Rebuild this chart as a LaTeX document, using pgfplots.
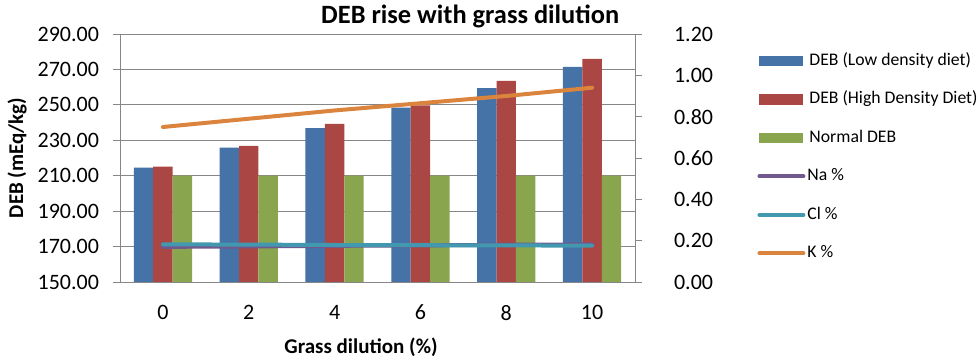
\documentclass[border=0pt]{standalone}
\usepackage{fontspec}
\setmainfont{Carlito}
\usepackage{pgfplots}
\pgfplotsset{compat=1.18}
\definecolor{cBlue}{HTML}{4572A7}
\definecolor{cRed}{HTML}{AA4643}
\definecolor{cGreen}{HTML}{89A54E}
\definecolor{cNa}{HTML}{71588F}
\definecolor{cCl}{HTML}{4198AF}
\definecolor{cK}{HTML}{DB843D}
\definecolor{cAxis}{HTML}{868686}
\begin{document}
\begin{tikzpicture}
\useasboundingbox (-60pt,-40.5pt) rectangle (429.5pt,141pt);
\begin{axis}[
  scale only axis, width=257.5pt, height=124pt,
  at={(0,0)}, anchor=south west,
  xmin=-0.5, xmax=5.5, ymin=150, ymax=290,
  ytick={150,170,...,290},
  xtick={0,...,5}, xticklabels={0,2,4,6,8,10},
  ytick pos=left,
  major x tick style={draw=none},
  tick align=outside, major tick length=3.5pt,
  tick style={cAxis, thin},
  axis line style={cAxis, thin},
  ymajorgrids, grid style={cAxis, thin},
  ybar=0pt, bar width=9.7pt,
  tick label style={font=\fontsize{11}{13}\selectfont},
  yticklabel style={xshift=-3.5pt, /pgf/number format/.cd, fixed, zerofill, precision=2, assume math mode=true},
  xticklabel style={yshift=-4.5pt, /pgf/number format/assume math mode=true},
  title={\bfseries DEB rise with grass dilution},
  every axis title/.style={at={(rel axis cs:0.68,1)}, yshift=9pt, anchor=center, font=\fontsize{13.2}{15}\selectfont},
  xlabel={\bfseries Grass dilution (\%)},
  ylabel={\bfseries DEB (mEq/kg)},
  every axis x label/.style={at={(rel axis cs:0.468,0)}, yshift=-32.5pt, anchor=center, font=\fontsize{10.5}{12}\selectfont},
  every axis y label/.style={at={(rel axis cs:0,0.5)}, xshift=-51.5pt, anchor=center, rotate=90, font=\fontsize{10.5}{12}\selectfont},
]
\addplot[fill=cBlue, draw=none] coordinates {(0,214.5) (1,225.8) (2,236.9) (3,248.4) (4,259.5) (5,271.4)};
\addplot[fill=cRed, draw=none] coordinates {(0,215.1) (1,226.9) (2,239.2) (3,249.7) (4,263.5) (5,275.9)};
\addplot[fill=cGreen, draw=none] coordinates {(0,210) (1,210) (2,210) (3,210) (4,210) (5,210)};
\end{axis}
\begin{axis}[
  scale only axis, width=257.5pt, height=124pt,
  at={(0,0)}, anchor=south west,
  xmin=-0.5, xmax=5.5, ymin=0, ymax=1.2,
  ytick={0,0.2,...,1.2},
  axis x line=none,
  axis y line*=right,
  tick align=outside, major tick length=3.5pt,
  tick style={cAxis, thin},
  axis line style={cAxis, thin, -},
  tick label style={font=\fontsize{11}{13}\selectfont},
  yticklabel style={xshift=12.5pt, /pgf/number format/.cd, fixed, zerofill, precision=2, assume math mode=true},
  legend style={at={(rel axis cs:1.237,1)}, anchor=north west, yshift=-8.5pt,
    draw=none, fill=none, inner sep=0pt,
    font=\fontsize{8.85}{10}\selectfont, row sep=9.75pt,
    nodes={inner sep=0pt, text height=7pt, text depth=2.5pt}},
  legend cell align=left,
]
\addlegendimage{legend image code/.code={\fill[cBlue] (0pt,-2.3pt) rectangle (21.5pt,2.3pt);}}
\addlegendentry{\hspace{2pt}DEB (Low density diet)}
\addlegendimage{legend image code/.code={\fill[cRed] (0pt,-2.3pt) rectangle (21.5pt,2.3pt);}}
\addlegendentry{\hspace{2pt}DEB (High Density Diet)}
\addlegendimage{legend image code/.code={\fill[cGreen] (0pt,-2.3pt) rectangle (21.5pt,2.3pt);}}
\addlegendentry{\hspace{2pt}Normal DEB}
\addplot[cNa, line width=2pt, line cap=round, legend image code/.code={\draw[cNa, line width=2pt, line cap=round] (0pt,0pt) -- (22pt,0pt);}] coordinates {(0,0.170) (1,0.172) (2,0.175) (3,0.177) (4,0.180) (5,0.182)};
\addlegendentry{\hspace{1pt}Na \%}
\addplot[cCl, line width=2pt, line cap=round, legend image code/.code={\draw[cCl, line width=2pt, line cap=round] (0pt,0pt) -- (22pt,0pt);}] coordinates {(0,0.182) (1,0.181) (2,0.179) (3,0.178) (4,0.177) (5,0.176)};
\addlegendentry{\hspace{1pt}Cl \%}
\addplot[cK, line width=2pt, line cap=round, legend image code/.code={\draw[cK, line width=2pt, line cap=round] (0pt,0pt) -- (22pt,0pt);}] coordinates {(0,0.750) (1,0.790) (2,0.830) (3,0.865) (4,0.900) (5,0.940)};
\addlegendentry{\hspace{1pt}K \%}
\end{axis}
\end{tikzpicture}
\end{document}
